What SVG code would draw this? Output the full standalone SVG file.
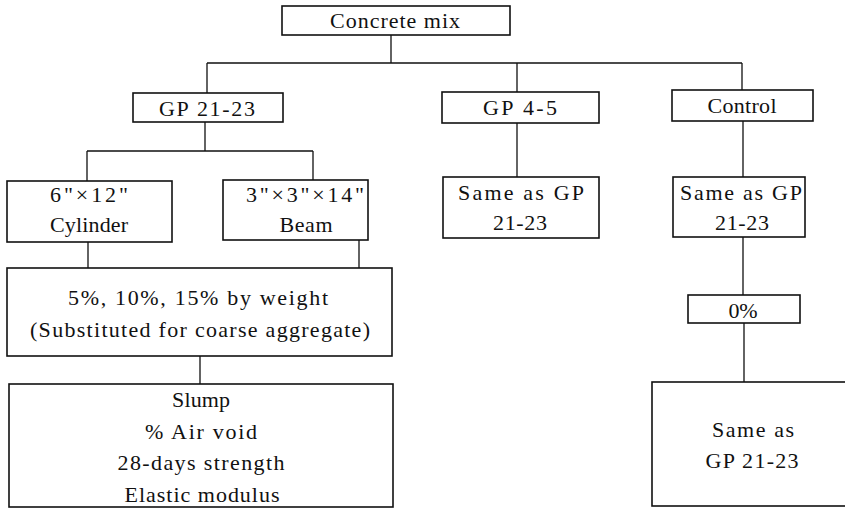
<svg xmlns="http://www.w3.org/2000/svg" width="845" height="509" viewBox="0 0 845 509">
<style>
.box{fill:#fff;stroke:#111;stroke-width:1.6}
.t{font-family:"Liberation Serif","Times New Roman",serif;font-size:22px;fill:#111;text-anchor:middle}
.c{fill:none;stroke:#111;stroke-width:1.3}
</style>
<rect width="845" height="509" fill="#fff"/>
<g id="connectors">
<path class="c" d="M391 35V63M207 63H742M207 63V93M517 63V92M742 63V90"/>
<path class="c" d="M205 122V151M87 151H313M87 151V181M313 151V180"/>
<path class="c" d="M88 242V268M359 240V268M200 356V384"/>
<path class="c" d="M517 123V177"/>
<path class="c" d="M743 121V177M743 237V295M744 323V382"/>
</g>
<g id="concrete-mix">
<rect class="box" x="282" y="6" width="228" height="29"/>
<text class="t" x="395" y="28" textLength="130" lengthAdjust="spacing">Concrete mix</text>
</g>
<g id="gp21">
<rect class="box" x="133" y="93" width="150" height="29"/>
<text class="t" x="207" y="116" textLength="96" lengthAdjust="spacing">GP 21-23</text>
</g>
<g id="gp45">
<rect class="box" x="442" y="92" width="157" height="31"/>
<text class="t" x="520" y="115" textLength="74" lengthAdjust="spacing">GP 4-5</text>
</g>
<g id="control">
<rect class="box" x="672" y="90" width="141" height="31"/>
<text class="t" x="742" y="113" textLength="69" lengthAdjust="spacing">Control</text>
</g>
<g id="cylinder">
<rect class="box" x="7" y="181" width="165" height="61"/>
<text class="t" x="89" y="202" textLength="78" lengthAdjust="spacing">6"×12"</text>
<text class="t" x="89" y="232" textLength="78" lengthAdjust="spacing">Cylinder</text>
</g>
<g id="beam">
<rect class="box" x="223" y="180" width="145" height="60"/>
<text class="t" x="305" y="202" textLength="118" lengthAdjust="spacing">3"×3"×14"</text>
<text class="t" x="306" y="232" textLength="53" lengthAdjust="spacing">Beam</text>
</g>
<g id="gp45-same">
<rect class="box" x="443" y="177" width="156" height="61"/>
<text class="t" x="521" y="200" textLength="126" lengthAdjust="spacing">Same as GP</text>
<text class="t" x="520" y="230" textLength="54" lengthAdjust="spacing">21-23</text>
</g>
<g id="control-same">
<rect class="box" x="673" y="177" width="132" height="60"/>
<text class="t" x="741" y="200" textLength="122" lengthAdjust="spacing">Same as GP</text>
<text class="t" x="742" y="230" textLength="54" lengthAdjust="spacing">21-23</text>
</g>
<g id="percent">
<rect class="box" x="7" y="268" width="385" height="88"/>
<text class="t" x="198" y="305" textLength="260" lengthAdjust="spacing">5%, 10%, 15% by weight</text>
<text class="t" x="200" y="337" textLength="340" lengthAdjust="spacing">(Substituted for coarse aggregate)</text>
</g>
<g id="zero">
<rect class="box" x="688" y="295" width="112" height="28"/>
<text class="t" x="743" y="318" textLength="29" lengthAdjust="spacing">0%</text>
</g>
<g id="results">
<rect class="box" x="9" y="384" width="384" height="123"/>
<text class="t" x="201" y="407" textLength="58" lengthAdjust="spacing">Slump</text>
<text class="t" x="201" y="439" textLength="112" lengthAdjust="spacing">% Air void</text>
<text class="t" x="201" y="470" textLength="167" lengthAdjust="spacing">28-days strength</text>
<text class="t" x="202" y="502" textLength="155" lengthAdjust="spacing">Elastic modulus</text>
</g>
<g id="control-result">
<rect class="box" x="652" y="382" width="200" height="124"/>
<text class="t" x="753" y="437" textLength="82" lengthAdjust="spacing">Same as</text>
<text class="t" x="752" y="468" textLength="93" lengthAdjust="spacing">GP 21-23</text>
</g>
</svg>
